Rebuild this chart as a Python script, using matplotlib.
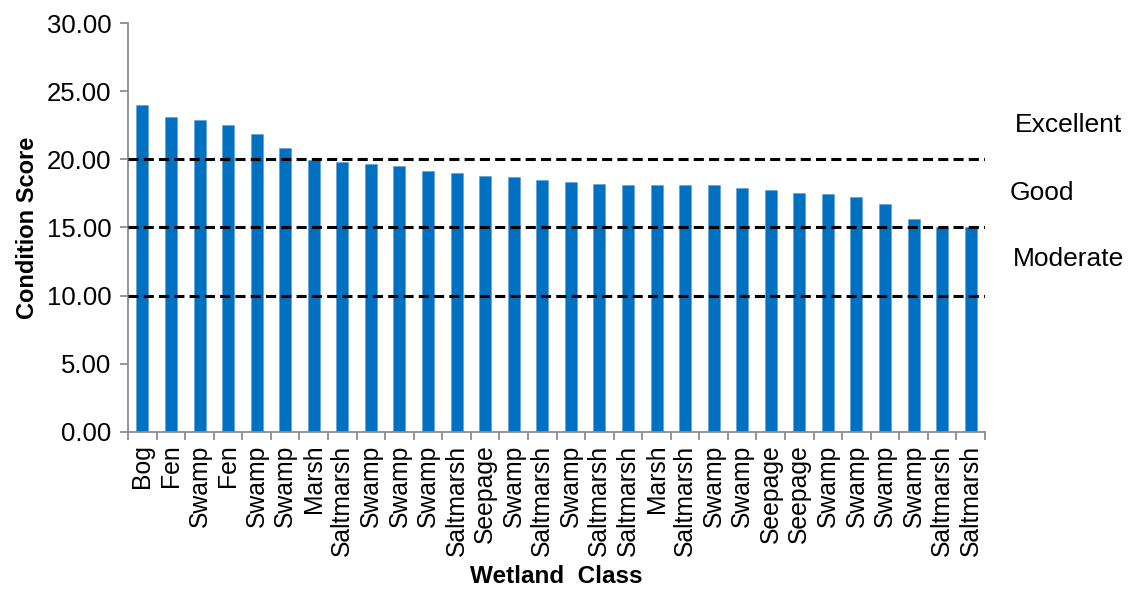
import matplotlib
matplotlib.use("Agg")
import matplotlib.pyplot as plt
import numpy as np

plt.rcParams['font.family'] = ['Liberation Sans', 'DejaVu Sans']

# wetland sites ranked by condition score
classes = ["Bog", "Fen", "Swamp", "Fen", "Swamp", "Swamp", "Marsh", "Saltmarsh",
           "Swamp", "Swamp", "Swamp", "Saltmarsh", "Seepage", "Swamp", "Saltmarsh",
           "Swamp", "Saltmarsh", "Saltmarsh", "Marsh", "Saltmarsh", "Swamp", "Swamp",
           "Seepage", "Seepage", "Swamp", "Swamp", "Swamp", "Swamp", "Saltmarsh",
           "Saltmarsh"]
scores = [24.0, 23.13, 22.87, 22.52, 21.89, 20.81, 19.93, 19.83, 19.66, 19.49,
          19.15, 19.03, 18.78, 18.69, 18.49, 18.32, 18.22, 18.14, 18.14, 18.14,
          18.14, 17.88, 17.78, 17.51, 17.44, 17.24, 16.73, 15.63, 15.0, 15.0]

# condition band thresholds and their names
thresholds = [10, 15, 20]
bands = ["Excellent", "Good", "Moderate"]
band_y = [22.5, 17.5, 12.7]
band_x = [30.56, 30.35, 30.49]

fig = plt.figure(figsize=(11.44, 5.9), dpi=100)
ax = fig.add_axes([0.112, 0.268, 0.749, 0.693])

x = np.arange(len(scores))
ax.bar(x, scores, width=0.42, color='#0070C0', edgecolor='#5B9BD5', linewidth=0.4, zorder=2)

for t in thresholds:
    ax.axhline(t, color='black', linewidth=2.2, linestyle=(0, (3.3, 1.7)), zorder=3)

for name, bx, by in zip(bands, band_x, band_y):
    ax.text(bx, by, name, fontsize=19, ha='left', va='center', clip_on=False)

ax.set_xlim(-0.5, len(scores) - 0.5)
ax.set_ylim(0, 30)
ax.set_yticks(np.arange(0, 30.01, 5))
ax.set_yticklabels([f"{v:.2f}" for v in np.arange(0, 30.01, 5)], fontsize=18.5)

# category labels centred on bars, tick marks between categories
ax.set_xticks(x)
ax.set_xticklabels(classes, rotation=90, fontsize=17.8)
ax.tick_params(axis='x', which='major', length=0, pad=9)
ax.set_xticks(np.arange(-0.5, len(scores), 1), minor=True)
ax.tick_params(axis='x', which='minor', length=6, width=1.3, color='#8C8C8C', direction='out')
ax.tick_params(axis='y', length=6, width=1.3, color='#8C8C8C', direction='out', pad=6)

for side in ['top', 'right']:
    ax.spines[side].set_visible(False)
for side in ['left', 'bottom']:
    ax.spines[side].set_color('#8C8C8C')
    ax.spines[side].set_linewidth(1.3)

ax.set_ylabel("Condition Score", fontsize=17, fontweight='bold', labelpad=6)
ax.set_xlabel("Wetland  Class", fontsize=17.5, fontweight='bold', labelpad=7)

fig.savefig("out.png", dpi=100)
